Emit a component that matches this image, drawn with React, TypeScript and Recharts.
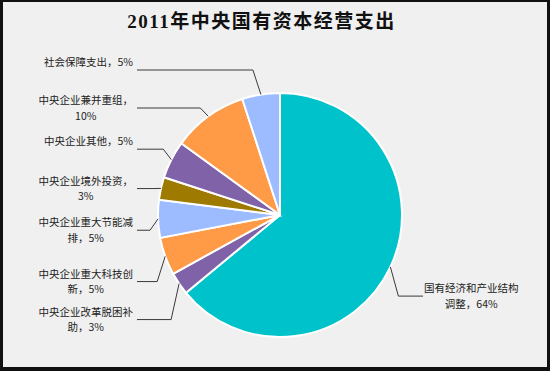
import { PieChart, Pie, Cell } from 'recharts';

const names = [
  '国有经济和产业结构调整',
  '中央企业改革脱困补助',
  '中央企业重大科技创新',
  '中央企业重大节能减排',
  '中央企业境外投资',
  '中央企业其他',
  '中央企业兼并重组',
  '社会保障支出',
];
const shares = [64, 3, 5, 5, 3, 5, 10, 5];
const colors = ['#00C2CA', '#8062A8', '#FF9A46', '#9DBBFF', '#9E7A00', '#8062A8', '#FF9A46', '#9DBBFF'];

const data = names.map((name, i) => ({ name, value: shares[i] }));

const RAD = Math.PI / 180;
const FONT = "'Noto Sans CJK SC', sans-serif";

// mid angle of each slice, recharts convention (start 90, clockwise)
const total = shares.reduce((a, b) => a + b, 0);
const mids: number[] = [];
{
  let acc = 0;
  shares.forEach((v) => {
    mids.push(90 - ((acc + v / 2) / total) * 360);
    acc += v;
  });
}

// spread the label rows so they don't overlap, like excel does
function layoutLabels(cy: number, r: number) {
  const ys: number[] = new Array(mids.length);
  const top = cy - r - 23;
  [-1, 1].forEach((side) => {
    const idx = mids
      .map((m, i) => ({ i, side: Math.cos(m * RAD) < 0 ? -1 : 1, y: cy - (r + 45) * Math.sin(m * RAD) + 10 }))
      .filter((o) => o.side === side)
      .sort((a, b) => a.y - b.y);
    let prev = -Infinity;
    idx.forEach((o) => {
      const y = Math.max(o.y, prev + 38, top);
      ys[o.i] = y;
      prev = y;
    });
  });
  return ys;
}

const textWidth = (s: string, fs: number) =>
  s.split('').reduce((w, ch) => w + (ch.charCodeAt(0) > 255 ? fs : fs * 0.6), 0);

const renderLabel = (props: any) => {
  const { cx, cy, midAngle, outerRadius, index } = props;
  const ys = layoutLabels(cy, outerRadius);
  const side = Math.cos(midAngle * RAD) < 0 ? -1 : 1;
  const ex = cx + outerRadius * Math.cos(-midAngle * RAD);
  const ey = cy + outerRadius * Math.sin(-midAngle * RAD);
  const ly = ys[index];
  const bx = ex + side * 8;
  const lx = cx + side * (outerRadius + 21);
  const full = `${names[index]}，${shares[index]}%`;
  const lines = [full.slice(0, 9), full.slice(9)].filter((s) => s.length);
  const fs = 10.5;
  const w1 = textWidth(lines[0], fs);
  const tx = side < 0 ? lx - 4 : lx + 1;
  return (
    <g key={`lbl-${index}`}>
      <polyline points={`${ex},${ey} ${bx},${ly} ${lx},${ly}`} fill="none" stroke="#3a3a3a" strokeWidth={1} />
      <text x={tx} y={ly - 8.5} textAnchor={side < 0 ? 'end' : 'start'} dominantBaseline="central" fontSize={fs} fontFamily={FONT} fill="#222">
        {lines[0]}
      </text>
      {lines[1] && (
        <text x={tx + side * (w1 / 2)} y={ly + 7} textAnchor="middle" dominantBaseline="central" fontSize={fs} fontFamily={FONT} fill="#222">
          {lines[1]}
        </text>
      )}
    </g>
  );
};

export default function App() {
  return (
    <div style={{ position: 'absolute', left: 0, top: 0, width: 550, height: 371, background: '#f0f0f0' }}>
      <div
        style={{
          position: 'absolute',
          left: 0,
          top: 10,
          width: 523,
          textAlign: 'center',
          fontFamily: "'Liberation Serif', 'Noto Sans CJK SC', serif",
          fontWeight: 'bold',
          fontSize: 19,
          letterSpacing: 1.5,
          lineHeight: '24px',
          color: '#111',
        }}
      >
        2011年中央国有资本经营支出
      </div>
      <div style={{ position: 'absolute', left: 0, top: 0 }}>
        <PieChart width={550} height={371} margin={{ top: 0, right: 0, bottom: 0, left: 0 }}>
          <Pie
            data={data}
            dataKey="value"
            nameKey="name"
            cx={280}
            cy={215}
            outerRadius={122}
            startAngle={90}
            endAngle={-270}
            stroke="#ffffff"
            strokeWidth={2}
            label={renderLabel}
            labelLine={false}
            isAnimationActive={false}
          >
            {data.map((d, i) => (
              <Cell key={d.name} fill={colors[i]} />
            ))}
          </Pie>
        </PieChart>
      </div>
      <div
        style={{
          position: 'absolute',
          left: 0,
          top: 0,
          width: 550,
          height: 371,
          boxSizing: 'border-box',
          borderTop: '2px solid #111',
          borderLeft: '3px solid #111',
          borderRight: '3px solid #111',
          borderBottom: '4px solid #111',
          pointerEvents: 'none',
        }}
      />
    </div>
  );
}
